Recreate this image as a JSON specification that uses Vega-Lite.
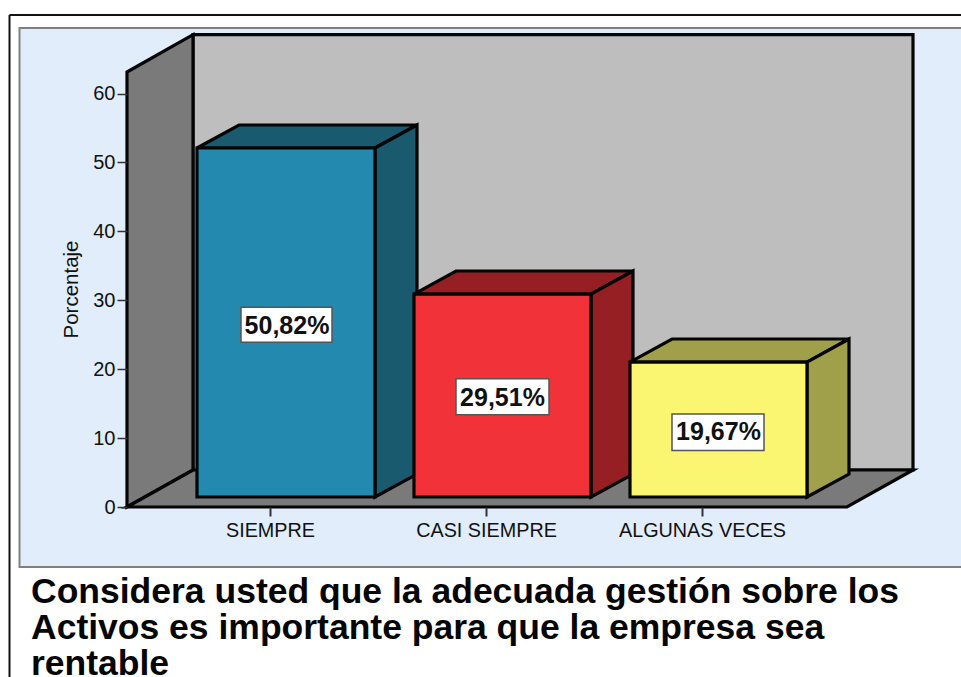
{
"$schema":"https://vega.github.io/schema/vega-lite/v6.json",
"width":961,"height":677,"padding":0,"autosize":{"type":"none"},
"background":"white",
"config":{"view":{"stroke":null},"font":"Liberation Sans"},
"datasets":{
"frame":[{"x":9.5,"x2":961,"y":71.41,"y2":71.41},{"x":9.5,"x2":9.5,"y":71.41,"y2":-24.67}],
"panel":[{"x":19.5,"x2":965,"y":69.52,"y2":-8.71}],
"faces":[
{"face":"back wall","x":193,"y":68.55,"y2":5.37},{"face":"back wall","x":913,"y":68.55,"y2":5.37},
{"face":"left wall","x":127,"y":63.13,"y2":0},{"face":"left wall","x":193,"y":68.55,"y2":5.37},
{"face":"floor","x":127,"y":0,"y2":0},{"face":"floor","x":193,"y":5.37,"y2":0},{"face":"floor","x":847,"y":5.37,"y2":0},{"face":"floor","x":913,"y":5.37,"y2":5.37},
{"face":"SIEMPRE top","x":197,"y":52.1,"y2":52.1},{"face":"SIEMPRE top","x":239,"y":55.44,"y2":52.1},{"face":"SIEMPRE top","x":375,"y":55.44,"y2":52.1},{"face":"SIEMPRE top","x":417,"y":55.44,"y2":55.44},
{"face":"SIEMPRE side","x":375,"y":52.1,"y2":1.45},{"face":"SIEMPRE side","x":417,"y":55.44,"y2":4.78},
{"face":"SIEMPRE front","x":197,"y":52.1,"y2":1.45},{"face":"SIEMPRE front","x":375,"y":52.1,"y2":1.45},
{"face":"CASI SIEMPRE top","x":414,"y":30.9,"y2":30.9},{"face":"CASI SIEMPRE top","x":456,"y":34.25,"y2":30.9},{"face":"CASI SIEMPRE top","x":591,"y":34.25,"y2":30.9},{"face":"CASI SIEMPRE top","x":633,"y":34.25,"y2":34.25},
{"face":"CASI SIEMPRE side","x":591,"y":30.9,"y2":1.45},{"face":"CASI SIEMPRE side","x":633,"y":34.25,"y2":4.78},
{"face":"CASI SIEMPRE front","x":414,"y":30.9,"y2":1.45},{"face":"CASI SIEMPRE front","x":591,"y":30.9,"y2":1.45},
{"face":"ALGUNAS VECES top","x":630,"y":21.04,"y2":21.04},{"face":"ALGUNAS VECES top","x":672,"y":24.38,"y2":21.04},{"face":"ALGUNAS VECES top","x":807,"y":24.38,"y2":21.04},{"face":"ALGUNAS VECES top","x":849,"y":24.38,"y2":24.38},
{"face":"ALGUNAS VECES side","x":807,"y":21.04,"y2":1.45},{"face":"ALGUNAS VECES side","x":849,"y":24.38,"y2":4.78},
{"face":"ALGUNAS VECES front","x":630,"y":21.04,"y2":1.45},{"face":"ALGUNAS VECES front","x":807,"y":21.04,"y2":1.45}
],
"boxes":[{"x":241,"x2":332,"y":29.0,"y2":23.9},{"x":456,"x2":549,"y":18.6,"y2":13.4},{"x":672,"x2":764,"y":13.5,"y2":8.2}],
"values":[{"x":287,"y":26.3,"label":"50,82%"},{"x":502.5,"y":15.75,"label":"29,51%"},{"x":718.5,"y":10.85,"label":"19,67%"}],
"title":[{"x":31,"y":-13.93,"line":"Considera usted que la adecuada gestión sobre los"},{"x":31,"y":-19.16,"line":"Activos es importante para que la empresa sea"},{"x":31,"y":-24.38,"line":"rentable"}]
},
"encoding":{
"x":{"field":"x","type":"quantitative","scale":{"domain":[0,961],"nice":false,"zero":false}},
"y":{"field":"y","type":"quantitative","stack":null,"scale":{"domain":[-24.67,73.58],"nice":false,"zero":false}}
},
"layer":[
{"data":{"name":"panel"},"mark":{"type":"rect","fill":"#E1EDFB","stroke":"#808080","strokeWidth":2},
 "encoding":{"x2":{"field":"x2"},"y2":{"field":"y2"},
  "x":{"field":"x","type":"quantitative","scale":{"domain":[0,961],"nice":false,"zero":false},
   "axis":{"zindex":1,"orient":"bottom","offset":-170,"title":null,"grid":false,"domain":false,"values":[270,486,702],
    "labelExpr":"datum.value==270?'SIEMPRE':datum.value==486?'CASI SIEMPRE':'ALGUNAS VECES'",
    "labelFontSize":19.8,"labelColor":"#111","labelPadding":4,"tickSize":9,"tickWidth":2,"tickColor":"#333","labelFlush":false,"labelOverlap":false}},
  "y":{"field":"y","type":"quantitative","stack":null,"scale":{"domain":[-24.67,73.58],"nice":false,"zero":false},
   "axis":{"zindex":1,"orient":"left","offset":-127,"title":"Porcentaje","titleFontSize":20.5,"titleFontWeight":"normal","titleColor":"#111","titleX":-46,"titleY":289,"grid":false,"domain":false,"values":[0,10,20,30,40,50,60],
    "labelFontSize":20,"labelColor":"#111","labelPadding":2,"tickSize":10,"tickWidth":1.5,"tickColor":"#333"}}
 }},
{"data":{"name":"frame"},"mark":{"type":"rule","stroke":"#111","strokeWidth":2},"encoding":{"x2":{"field":"x2"},"y2":{"field":"y2"}}},
{"data":{"name":"faces"},"mark":{"type":"area","orient":"vertical","stroke":"#050505","strokeWidth":3.2,"opacity":1},
 "encoding":{"y2":{"field":"y2"},
  "color":{"field":"face","type":"nominal","legend":null,"scale":{
   "domain":["back wall","left wall","floor","SIEMPRE top","SIEMPRE side","SIEMPRE front","CASI SIEMPRE top","CASI SIEMPRE side","CASI SIEMPRE front","ALGUNAS VECES top","ALGUNAS VECES side","ALGUNAS VECES front"],
   "range":["#BEBEBE","#7A7A7A","#7A7A7A","#1A5A6E","#1A5A6E","#2489AE","#951F22","#951F22","#F23239","#A0A04A","#A0A04A","#FBF672"]}}}},
{"data":{"name":"boxes"},"mark":{"type":"rect","fill":"white","stroke":"#555","strokeWidth":1.5},"encoding":{"x2":{"field":"x2"},"y2":{"field":"y2"}}},
{"data":{"name":"values"},"mark":{"type":"text","fontSize":25,"fontWeight":"bold","fill":"#111","align":"center","baseline":"middle"},"encoding":{"text":{"field":"label"}}},
{"data":{"name":"title"},"mark":{"type":"text","fontSize":35.5,"fontWeight":"bold","fill":"#050505","align":"left","baseline":"alphabetic"},"encoding":{"text":{"field":"line"}}}
]
}
